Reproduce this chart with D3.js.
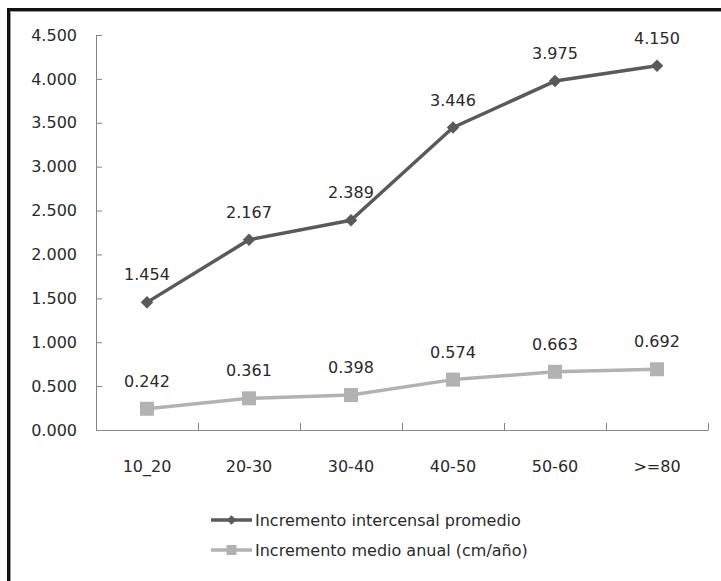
<!DOCTYPE html>
<html>
<head>
<meta charset="utf-8">
<script src="https://cdn.jsdelivr.net/npm/d3@7"></script>
<style>
  html, body { margin: 0; padding: 0; background: #fff; }
  svg { display: block; }
  text { font-family: "DejaVu Sans", sans-serif; font-size: 16px; fill: #2a2a2a; }
</style>
</head>
<body>
<svg id="chart" width="721" height="581"></svg>
<script>
const categories = ["10_20", "20-30", "30-40", "40-50", "50-60", ">=80"];
const seriesNames = ["Incremento intercensal promedio", "Incremento medio anual (cm/año)"];
const intercensal = [1.454, 2.167, 2.389, 3.446, 3.975, 4.150];
const anual = [0.242, 0.361, 0.398, 0.574, 0.663, 0.692];
const yTicks = [0, 0.5, 1, 1.5, 2, 2.5, 3, 3.5, 4, 4.5];

const svg = d3.select("#chart");
const fmt = d3.format(".3f");

// frame
svg.append("rect").attr("x", 0).attr("y", 0).attr("width", 721).attr("height", 581).attr("fill", "#fff");
svg.append("rect").attr("x", 7).attr("y", 8).attr("width", 714).attr("height", 3).attr("fill", "#111");
svg.append("rect").attr("x", 7).attr("y", 8).attr("width", 3).attr("height", 573).attr("fill", "#111");
svg.append("rect").attr("x", 10).attr("y", 11).attr("width", 711).attr("height", 1).attr("fill", "#999");
svg.append("rect").attr("x", 10).attr("y", 11).attr("width", 1).attr("height", 570).attr("fill", "#999");

const x = d3.scaleBand().domain(categories).range([96, 708]).padding(0);
const y = d3.scaleLinear().domain([0, 4.5]).range([430, 35]);
const cx = c => x(c) + x.bandwidth() / 2;
const axisColor = "#868686";

// Y axis
const yAxis = svg.append("g").attr("transform", "translate(96,0)")
  .call(d3.axisLeft(y).tickValues(yTicks).tickFormat(fmt).tickSizeInner(-6).tickSizeOuter(0).tickPadding(19));
yAxis.select(".domain").attr("stroke", axisColor);
yAxis.selectAll(".tick line").attr("stroke", axisColor);
yAxis.selectAll("text").attr("font-family", null).attr("font-size", null).attr("fill", null);

// X axis
const xAxis = svg.append("g").attr("transform", "translate(0,430)")
  .call(d3.axisBottom(x).tickSize(0).tickPadding(31));
xAxis.select(".domain").attr("stroke", axisColor);
xAxis.selectAll("text").attr("font-family", null).attr("font-size", null).attr("fill", null);
const bounds = categories.map(c => x(c)).concat([x.range()[1]]);
xAxis.selectAll(".bound").data(bounds).enter().append("line")
  .attr("x1", d => d + 0.5).attr("x2", d => d + 0.5).attr("y1", 0).attr("y2", -7)
  .attr("stroke", axisColor);

const darkColor = "#5a5a5a";
const lightColor = "#b2b2b2";

const line = d3.line().x((d, i) => cx(categories[i])).y(d => y(d));

// light series
svg.append("path").datum(anual).attr("d", line).attr("fill", "none")
  .attr("stroke", lightColor).attr("stroke-width", 3.5).attr("stroke-linejoin", "round");
svg.selectAll(".sq").data(anual).enter().append("rect")
  .attr("x", (d, i) => cx(categories[i]) - 7).attr("y", d => y(d) - 7)
  .attr("width", 14).attr("height", 14).attr("fill", lightColor);

// dark series
svg.append("path").datum(intercensal).attr("d", line).attr("fill", "none")
  .attr("stroke", darkColor).attr("stroke-width", 3.5).attr("stroke-linejoin", "round");
svg.selectAll(".dm").data(intercensal).enter().append("path")
  .attr("d", d3.symbol().type(d3.symbolDiamond2).size(100))
  .attr("transform", (d, i) => `translate(${cx(categories[i])},${y(d)})`)
  .attr("fill", darkColor);

// data labels
[intercensal, anual].forEach(arr => {
  svg.selectAll(null).data(arr).enter().append("text")
    .attr("x", (d, i) => cx(categories[i])).attr("y", d => y(d) - 22)
    .attr("text-anchor", "middle").text(d => fmt(d));
});

// legend
const legendY = [520, 550];
const lg = svg.append("g");
[0, 1].forEach(k => {
  const col = k === 0 ? darkColor : lightColor;
  lg.append("line").attr("x1", 211).attr("x2", 252).attr("y1", legendY[k]).attr("y2", legendY[k])
    .attr("stroke", col).attr("stroke-width", 3.5);
  if (k === 0) {
    lg.append("path").attr("d", d3.symbol().type(d3.symbolDiamond2).size(55))
      .attr("transform", `translate(231.5,${legendY[k]})`).attr("fill", col);
  } else {
    lg.append("rect").attr("x", 226.5).attr("y", legendY[k] - 5).attr("width", 10).attr("height", 10).attr("fill", col);
  }
  lg.append("text").attr("x", 255).attr("y", legendY[k]).attr("dy", "0.36em").text(seriesNames[k]);
});
</script>
</body>
</html>
